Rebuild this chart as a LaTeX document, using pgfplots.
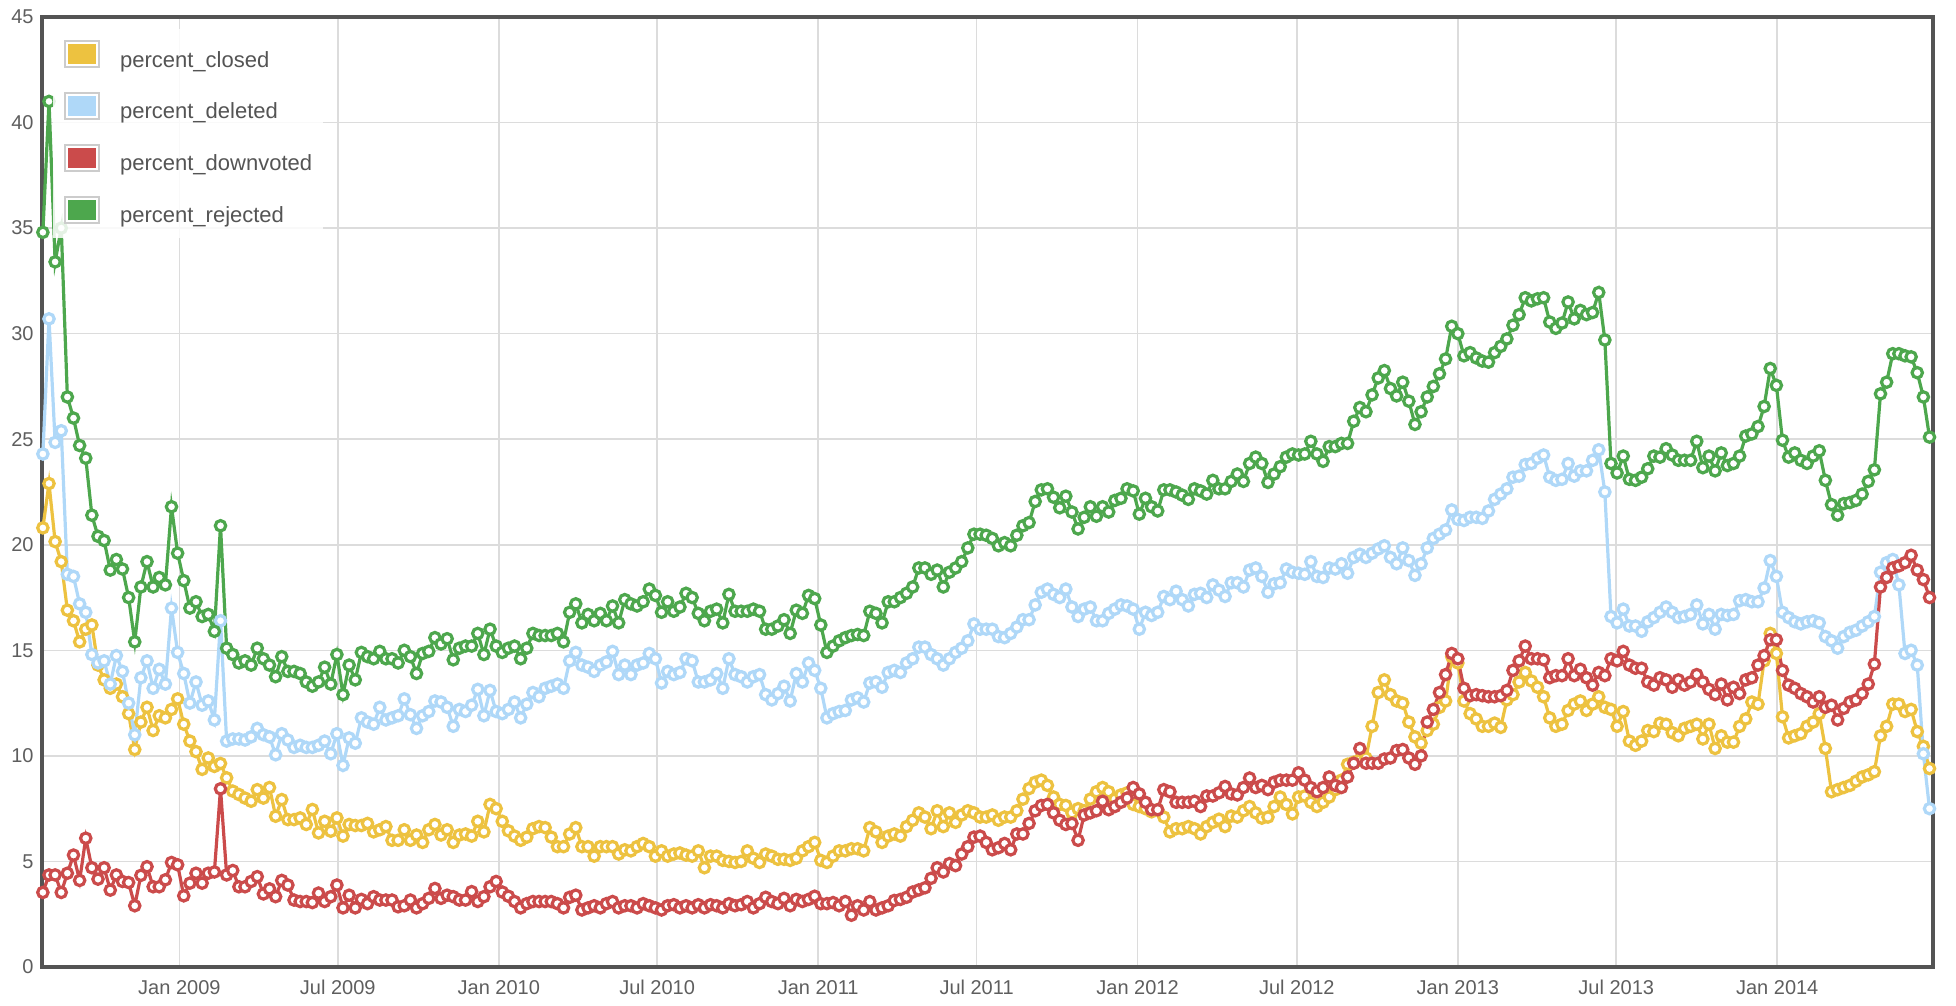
\documentclass[border=0pt]{standalone}
\usepackage{fontspec}
\setmainfont{Liberation Sans}
\usepackage{pgfplots}
\usepackage{pgfplotstable}
\pgfplotsset{compat=1.18}

\definecolor{fclosed}{HTML}{EDC240}
\definecolor{fdeleted}{HTML}{AFD8F8}
\definecolor{fdownvoted}{HTML}{CB4B4B}
\definecolor{frejected}{HTML}{4DA74D}
\definecolor{framegray}{HTML}{545454}
\definecolor{gridgray}{HTML}{DCDCDC}
\definecolor{labelgray}{HTML}{5E5E5E}
\definecolor{swatchborder}{HTML}{CCCCCC}

% weekly values, first week = 156 days before 1 Jan 2009
\pgfplotstableread{
closed deleted downvoted rejected
20.8 24.3 3.53 34.8
22.9 30.7 4.36 41.0
20.15 24.85 4.36 33.4
19.2 25.4 3.53 35.0
16.9 18.6 4.44 27.0
16.4 18.5 5.3 26.0
15.4 17.2 4.1 24.7
16.0 16.8 6.1 24.1
16.2 14.8 4.7 21.4
14.3 14.4 4.16 20.4
13.6 14.5 4.7 20.2
13.2 13.4 3.64 18.8
13.4 14.75 4.36 19.3
12.8 14.0 4.05 18.85
12.0 12.5 4.0 17.5
10.3 11.0 2.9 15.4
11.6 13.7 4.34 18.0
12.3 14.5 4.75 19.2
11.2 13.2 3.8 18.0
11.9 14.1 3.8 18.45
11.8 13.4 4.13 18.1
12.2 17.0 4.95 21.8
12.7 14.9 4.84 19.6
11.5 13.9 3.37 18.3
10.7 12.5 3.97 17.0
10.2 13.5 4.44 17.3
9.36 12.4 3.97 16.6
9.9 12.6 4.44 16.7
9.5 11.7 4.5 15.9
9.64 16.4 8.44 20.9
8.96 10.7 4.36 15.1
8.33 10.8 4.57 14.8
8.17 10.8 3.8 14.4
8.0 10.75 3.8 14.5
7.85 10.9 4.05 14.3
8.4 11.3 4.28 15.1
8.0 11.0 3.46 14.6
8.5 10.9 3.7 14.3
7.14 10.05 3.33 13.75
7.93 11.05 4.1 14.7
6.98 10.75 3.88 14.0
6.98 10.4 3.17 14.0
7.06 10.5 3.1 13.9
6.75 10.4 3.1 13.5
7.46 10.4 3.05 13.3
6.35 10.5 3.5 13.5
6.9 10.7 3.1 14.2
6.43 10.1 3.33 13.4
7.06 11.05 3.88 14.8
6.2 9.55 2.8 12.9
6.75 10.85 3.4 14.3
6.7 10.6 2.8 13.6
6.7 11.8 3.2 14.9
6.8 11.6 3.0 14.7
6.4 11.5 3.33 14.6
6.5 12.3 3.17 14.95
6.65 11.7 3.17 14.6
6.0 11.8 3.17 14.6
6.0 11.9 2.85 14.4
6.5 12.7 2.9 15.0
6.0 11.95 3.17 14.7
6.25 11.3 2.8 13.9
5.9 11.9 3.0 14.85
6.5 12.1 3.25 14.95
6.75 12.6 3.72 15.6
6.25 12.55 3.25 15.3
6.5 12.3 3.4 15.55
5.9 11.4 3.33 14.55
6.25 12.2 3.17 15.1
6.3 12.1 3.17 15.2
6.2 12.4 3.57 15.2
6.9 13.15 3.1 15.8
6.4 11.9 3.33 14.8
7.7 13.1 3.8 16.0
7.5 12.1 4.05 15.2
6.9 12.0 3.55 14.9
6.45 12.2 3.35 15.1
6.2 12.55 3.1 15.2
6.0 11.8 2.8 14.6
6.15 12.45 3.0 15.1
6.55 13.0 3.1 15.8
6.65 12.8 3.1 15.7
6.6 13.2 3.1 15.7
6.15 13.3 3.1 15.7
5.7 13.4 3.0 15.8
5.7 13.2 2.8 15.4
6.3 14.5 3.3 16.8
6.6 14.9 3.4 17.2
5.7 14.3 2.7 16.3
5.7 14.2 2.8 16.7
5.25 14.0 2.9 16.4
5.7 14.3 2.8 16.75
5.7 14.45 3.0 16.4
5.7 14.95 3.1 17.1
5.35 13.85 2.8 16.3
5.55 14.3 2.9 17.4
5.5 13.85 2.9 17.2
5.7 14.3 2.8 17.1
5.85 14.4 3.0 17.3
5.7 14.85 2.9 17.9
5.25 14.6 2.8 17.6
5.5 13.45 2.7 16.8
5.25 14.0 2.9 17.3
5.35 13.85 2.95 16.85
5.4 13.95 2.8 17.05
5.3 14.6 2.9 17.7
5.25 14.5 2.8 17.5
5.5 13.5 2.95 16.75
4.7 13.5 2.8 16.4
5.25 13.6 2.95 16.85
5.25 13.9 2.9 16.95
5.05 13.2 2.8 16.3
5.0 14.6 3.0 17.65
4.95 13.85 2.9 16.85
5.0 13.75 2.95 16.85
5.5 13.5 3.1 16.85
5.15 13.75 2.8 16.95
4.95 13.85 3.0 16.85
5.35 12.9 3.3 16.0
5.25 12.65 3.1 16.0
5.1 12.95 3.0 16.15
5.1 13.3 3.25 16.45
5.05 12.6 2.9 15.8
5.15 13.9 3.2 16.9
5.5 13.5 3.1 16.75
5.7 14.4 3.2 17.6
5.9 14.05 3.35 17.45
5.05 13.2 3.0 16.2
4.95 11.8 3.0 14.9
5.25 12.0 3.05 15.2
5.5 12.1 2.9 15.45
5.5 12.15 3.1 15.6
5.6 12.65 2.45 15.7
5.6 12.75 2.9 15.75
5.5 12.55 2.7 15.7
6.6 13.45 3.1 16.85
6.4 13.5 2.7 16.75
5.9 13.25 2.8 16.3
6.2 13.95 2.9 17.3
6.3 14.05 3.15 17.3
6.2 13.95 3.2 17.5
6.65 14.4 3.3 17.7
6.95 14.6 3.55 18.0
7.3 15.15 3.65 18.9
7.1 15.15 3.75 18.9
6.55 14.8 4.2 18.6
7.4 14.6 4.7 18.8
6.65 14.3 4.5 18.0
7.3 14.6 4.9 18.7
6.85 14.9 4.8 18.9
7.2 15.1 5.35 19.2
7.4 15.45 5.7 19.85
7.3 16.25 6.15 20.5
7.1 16.0 6.2 20.5
7.1 16.0 5.9 20.45
7.2 16.0 5.55 20.3
6.95 15.65 5.65 19.95
7.1 15.6 5.85 20.1
7.1 15.8 5.55 19.95
7.4 16.1 6.3 20.45
7.95 16.45 6.3 20.9
8.45 16.45 6.8 21.05
8.75 17.15 7.4 22.05
8.85 17.75 7.65 22.6
8.6 17.9 7.7 22.65
8.05 17.65 7.3 22.25
7.7 17.5 6.95 21.75
7.65 17.9 6.75 22.3
7.3 17.05 6.8 21.55
7.5 16.6 6.0 20.75
7.4 16.95 7.2 21.3
7.95 17.05 7.3 21.8
8.3 16.4 7.4 21.35
8.5 16.4 7.85 21.8
8.3 16.75 7.45 21.55
7.95 16.95 7.6 22.1
8.15 17.15 7.8 22.2
8.25 17.1 8.0 22.65
7.7 16.95 8.5 22.55
7.6 16.0 8.2 21.45
7.5 16.8 7.8 22.2
7.35 16.65 7.45 21.8
7.45 16.8 7.45 21.6
7.1 17.55 8.4 22.6
6.4 17.4 8.3 22.6
6.55 17.8 7.8 22.5
6.55 17.4 7.8 22.35
6.65 17.1 7.8 22.15
6.55 17.65 7.85 22.65
6.3 17.7 7.6 22.55
6.65 17.5 8.1 22.4
6.85 18.1 8.1 23.05
7.0 17.85 8.25 22.65
6.65 17.55 8.55 22.65
7.15 18.2 8.2 23.0
7.1 18.2 8.15 23.35
7.4 18.0 8.5 23.0
7.6 18.8 8.95 23.85
7.3 18.9 8.5 24.15
7.05 18.5 8.6 23.85
7.1 17.75 8.4 22.95
7.6 18.15 8.75 23.35
8.05 18.2 8.85 23.7
7.7 18.85 8.85 24.15
7.25 18.7 8.85 24.3
8.05 18.65 9.2 24.25
8.1 18.6 8.85 24.3
7.8 19.2 8.5 24.9
7.6 18.5 8.3 24.3
7.8 18.45 8.5 23.95
8.05 18.9 9.0 24.65
8.4 18.85 8.6 24.65
8.85 19.1 8.5 24.8
9.6 18.65 9.0 24.8
9.7 19.4 9.65 25.85
9.8 19.55 10.35 26.5
9.9 19.4 9.65 26.3
11.4 19.6 9.65 27.1
13.0 19.8 9.65 27.9
13.6 19.95 9.85 28.25
12.9 19.4 9.9 27.4
12.6 19.1 10.25 27.05
12.5 19.85 10.3 27.7
11.6 19.25 9.9 26.8
10.9 18.55 9.6 25.7
10.6 19.1 10.0 26.3
11.2 19.85 11.6 27.0
11.5 20.3 12.2 27.5
12.3 20.5 13.0 28.1
12.6 20.7 13.85 28.8
14.7 21.65 14.85 30.35
14.4 21.2 14.6 30.0
12.6 21.15 13.2 28.95
12.0 21.3 12.85 29.1
11.75 21.3 12.9 28.85
11.4 21.25 12.85 28.7
11.4 21.6 12.8 28.65
11.55 22.15 12.8 29.1
11.35 22.4 12.85 29.4
12.65 22.65 13.1 29.75
12.9 23.2 14.05 30.4
13.5 23.25 14.5 30.9
13.95 23.8 15.2 31.7
13.55 23.85 14.6 31.55
13.25 24.1 14.6 31.65
12.8 24.25 14.55 31.7
11.8 23.2 13.7 30.55
11.4 23.05 13.8 30.25
11.5 23.1 13.8 30.5
12.15 23.85 14.6 31.5
12.45 23.25 13.8 30.7
12.6 23.5 14.1 31.1
12.15 23.5 13.7 30.9
12.45 24.0 13.35 31.0
12.8 24.5 13.95 31.95
12.3 22.5 13.8 29.7
12.2 16.6 14.6 23.85
11.4 16.3 14.5 23.4
12.1 16.95 14.95 24.2
10.7 16.15 14.3 23.1
10.5 16.15 14.15 23.05
10.7 15.9 14.15 23.2
11.2 16.35 13.5 23.6
11.15 16.55 13.35 24.2
11.55 16.8 13.7 24.15
11.5 17.05 13.6 24.55
11.1 16.8 13.25 24.25
10.95 16.55 13.6 24.0
11.3 16.6 13.35 24.0
11.4 16.7 13.5 24.0
11.5 17.15 13.85 24.9
10.8 16.25 13.5 23.65
11.5 16.7 13.15 24.2
10.35 16.0 12.9 23.5
10.95 16.7 13.4 24.35
10.65 16.65 12.65 23.75
10.65 16.7 13.25 23.85
11.4 17.35 12.95 24.2
11.75 17.4 13.6 25.15
12.55 17.3 13.7 25.25
12.45 17.3 14.3 25.6
14.5 17.95 14.75 26.55
15.8 19.25 15.5 28.35
14.85 18.5 15.5 27.55
11.85 16.8 14.05 24.95
10.85 16.55 13.35 24.15
10.95 16.35 13.2 24.35
11.05 16.25 12.95 24.0
11.4 16.35 12.8 23.85
11.6 16.4 12.55 24.2
12.0 16.3 12.8 24.45
10.35 15.65 12.3 23.05
8.3 15.45 12.4 21.9
8.4 15.1 11.7 21.4
8.5 15.65 12.25 21.95
8.6 15.85 12.55 22.0
8.8 15.95 12.65 22.1
9.0 16.15 12.95 22.4
9.1 16.35 13.4 23.0
9.25 16.6 14.35 23.55
10.95 18.7 18.0 27.15
11.4 19.15 18.45 27.7
12.45 19.3 18.9 29.05
12.45 18.1 19.0 29.05
12.1 14.85 19.15 28.95
12.2 15.0 19.5 28.9
11.15 14.3 18.8 28.15
10.45 10.1 18.35 27.0
9.4 7.5 17.5 25.1
}\weekly

\pgfplotsset{
  swatch/.style={legend image code/.code={
    \draw[draw=swatchborder, fill=white, fill opacity=1, line width=1pt] (0.5pt,-3pt) rectangle (17.5pt,10pt);
    \fill[#1, fill opacity=1, draw=none] (2pt,-1.5pt) rectangle (16pt,8.5pt);
    \path[draw=none, fill=none] (0pt,0pt) rectangle (28.1pt,0.1pt);}},
}

\begin{document}
\begin{tikzpicture}
\begin{axis}[
  scale only axis,
  width=945.5pt, height=475pt,
  xmin=-157, xmax=2004,
  ymin=0, ymax=45,
  ytick={0,5,...,45},
  xtick={0,181,365,546,730,911,1095,1277,1461,1642,1826},
  xticklabels={Jan 2009,Jul 2009,Jan 2010,Jul 2010,Jan 2011,Jul 2011,Jan 2012,Jul 2012,Jan 2013,Jul 2013,Jan 2014},
  grid=major,
  major grid style={gridgray, line width=0.8pt},
  major tick length=0pt,
  axis line style={framegray, line width=1.6pt},
  tick label style={font=\fontsize{10}{12}\selectfont, text=labelgray},
  /pgf/number format/assume math mode=true,
  yticklabel style={anchor=east, inner sep=0pt, xshift=-4pt},
  xticklabel style={anchor=north, inner sep=0pt, yshift=-6.5pt},
  clip=false,
  every axis plot/.append style={line width=1.6pt, mark=*, mark size=2.6pt,
    mark options={fill=white, line width=1.6pt}},
  legend cell align=left,
  legend style={at={(rel axis cs:0,1)}, anchor=north west,
    xshift=5.25pt, yshift=-6pt,
    fill=white, fill opacity=0.85, text opacity=1, draw=none,
    inner xsep=5.5pt, inner ysep=5.5pt,
    row sep=10.4pt,
    nodes={inner sep=0pt, text height=7.9pt, text depth=2.2pt},
    font=\fontsize{11}{13}\selectfont, text=framegray},
]
\addplot[fclosed, swatch=fclosed] table[x expr=7*\coordindex-156, y=closed] {\weekly};
\addlegendentry{percent\_closed}
\addplot[fdeleted, swatch=fdeleted] table[x expr=7*\coordindex-156, y=deleted] {\weekly};
\addlegendentry{percent\_deleted}
\addplot[fdownvoted, swatch=fdownvoted] table[x expr=7*\coordindex-156, y=downvoted] {\weekly};
\addlegendentry{percent\_downvoted}
\addplot[frejected, swatch=frejected] table[x expr=7*\coordindex-156, y=rejected] {\weekly};
\addlegendentry{percent\_rejected}
% page margins around the plot frame
\path ([shift={(-21pt,-19.5pt)}]rel axis cs:0,0) rectangle ([shift={(11.5pt,8.5pt)}]rel axis cs:1,1);
\end{axis}
\end{tikzpicture}
\end{document}
